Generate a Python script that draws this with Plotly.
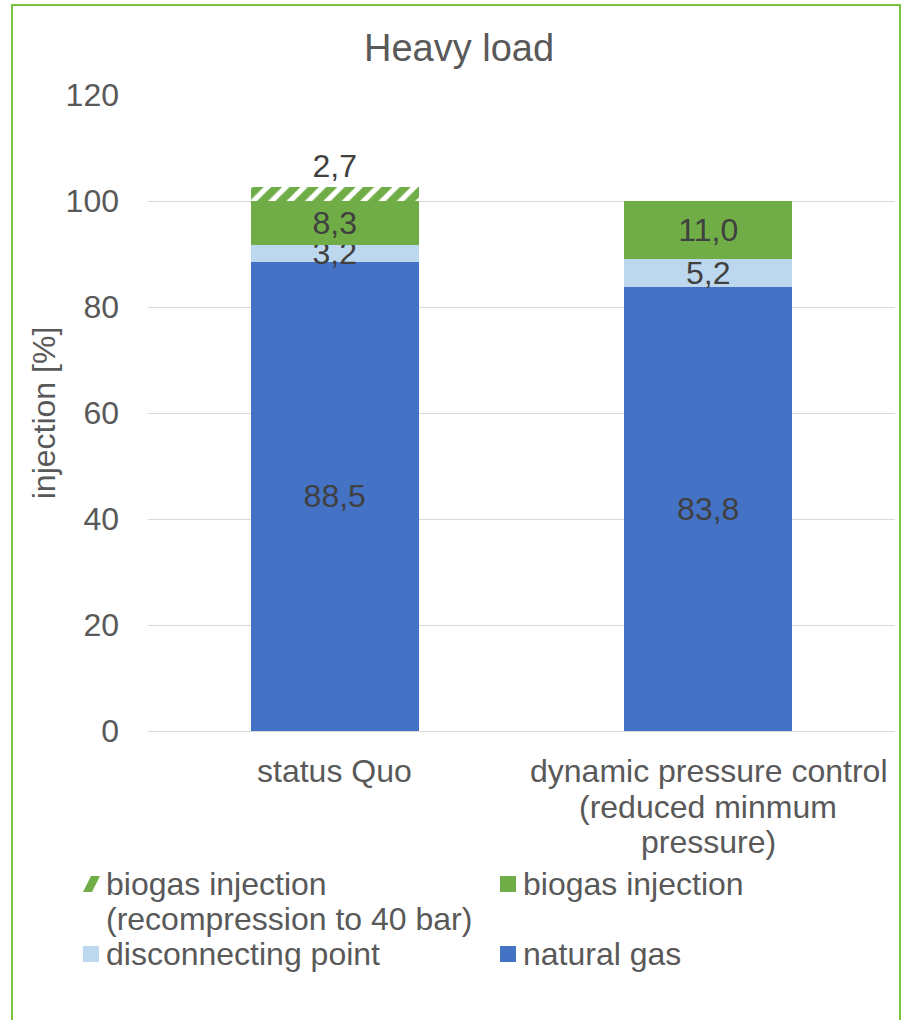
import plotly.graph_objects as go

# Scenario categories (x axis) and their wrapped label lines
categories = ["status Quo", "dynamic pressure control (reduced minmum pressure)"]
category_lines = [["status Quo"],
                  ["dynamic pressure control", "(reduced minmum", "pressure)"]]

# Injection shares in percent, stacked bottom to top
natural_gas = [88.5, 83.8]
disconnecting_point = [3.2, 5.2]
biogas = [8.3, 11.0]
biogas_recompression = [2.7, None]

series_names = {
    "natural": "natural gas",
    "disconnect": "disconnecting point",
    "biogas": "biogas injection",
    "recomp": "biogas injection\n(recompression to 40 bar)",
}

y_ticks = [0, 20, 40, 60, 80, 100, 120]

FONT = "Liberation Sans, Arial, sans-serif"
TXT = "#595959"
LBL = "#404040"
GREEN = "#70AD47"
BLUE = "#4472C4"
LIGHT = "#BDD7EE"
FRAME = "#7CC242"
FS = 32

# plot-area geometry (pixels) used to place the frame, labels and legend
W, H = 902, 1020
L, R, T, B = 148, 7, 95, 289
PW, PH = W - L - R, H - T - B


def px_x(px):
    return (px - L) / PW


def px_y(py):
    return (H - B - py) / PH


fig = go.Figure()

common = dict(
    x=categories,
    texttemplate="%{y:.1f}",
    textposition="inside",
    insidetextanchor="middle",
    constraintext="none",
    textfont=dict(family=FONT, size=FS, color=LBL),
    hoverinfo="skip",
    showlegend=False,
)

fig.add_bar(y=natural_gas, name=series_names["natural"],
            marker=dict(color=BLUE, line_width=0), **common)
fig.add_bar(y=disconnecting_point, name=series_names["disconnect"],
            marker=dict(color=LIGHT, line_width=0), **common)
fig.add_bar(y=biogas, name=series_names["biogas"],
            marker=dict(color=GREEN, line_width=0), **common)
fig.add_bar(
    x=categories, y=biogas_recompression, name=series_names["recomp"],
    marker=dict(color="white", line_width=0,
                pattern=dict(shape="/", fgcolor=GREEN, bgcolor="white",
                             fgopacity=1, size=13, solidity=0.6)),
    texttemplate="%{y:.1f}", textposition="outside", constraintext="none",
    textfont=dict(family=FONT, size=FS, color=LBL), cliponaxis=False,
    hoverinfo="skip", showlegend=False,
)

annotations = []
shapes = []

# category labels below the axis, one line at a time
LINE = 35.5
for cat, lines in zip(categories, category_lines):
    for i, line in enumerate(lines):
        annotations.append(dict(
            x=cat, xref="x", y=px_y(771 + i * LINE), yref="paper",
            text=line, showarrow=False, xanchor="center", yanchor="middle",
            font=dict(family=FONT, size=FS, color=TXT)))

# legend: two columns, symbol + text lines
legend_items = [
    ("recomp", 83, 884, None),
    ("biogas", 500, 884, GREEN),
    ("disconnect", 83, 954, LIGHT),
    ("natural", 500, 954, BLUE),
]
for key, sx, sy, color in legend_items:
    for i, line in enumerate(series_names[key].split("\n")):
        annotations.append(dict(
            x=px_x(sx + 21), xref="paper", y=px_y(sy + i * 34.5), yref="paper",
            text=line, showarrow=False, xanchor="left", yanchor="middle",
            font=dict(family=FONT, size=FS, color=TXT)))
    if color is None:
        # hatched swatch: a single wide diagonal stripe
        x0, x1 = px_x(sx), px_x(sx + 17)
        y0, y1 = px_y(sy + 8), px_y(sy - 8)
        xa = px_x(sx + 9)
        xb = px_x(sx + 8)
        shapes.append(dict(
            type="path", xref="paper", yref="paper",
            path=f"M {x0},{y0} L {xa},{y0} L {x1},{y1} L {xb},{y1} Z",
            fillcolor=GREEN, line=dict(width=0)))
    else:
        shapes.append(dict(
            type="rect", xref="paper", yref="paper",
            x0=px_x(sx), x1=px_x(sx + 16), y0=px_y(sy + 8), y1=px_y(sy - 8),
            fillcolor=color, line=dict(width=0)))

# chart frame
fl, fr, ft, fb = px_x(12), px_x(900), px_y(5), px_y(1040)
shapes.append(dict(type="path", xref="paper", yref="paper",
                   path=f"M {fl},{fb} L {fl},{ft} L {fr},{ft} L {fr},{fb}",
                   line=dict(color=FRAME, width=2)))

fig.update_layout(
    width=W, height=H,
    margin=dict(l=L, r=R, t=T, b=B),
    paper_bgcolor="white", plot_bgcolor="white",
    barmode="stack", bargap=0.55,
    separators=",.",
    font=dict(family=FONT, size=FS, color=TXT),
    title=dict(text="Heavy load", font=dict(family=FONT, size=38, color=TXT),
               xref="container", x=459 / W, xanchor="center",
               yref="container", y=1 - 48 / H, yanchor="middle"),
    showlegend=False,
    annotations=annotations,
    shapes=shapes,
)

fig.update_yaxes(range=[0, 120], tickvals=y_ticks, showgrid=True, gridcolor="#D9D9D9",
                 gridwidth=1, zeroline=True, zerolinecolor="#D9D9D9", zerolinewidth=1,
                 showline=False, ticks="", ticklabelstandoff=28,
                 tickfont=dict(family=FONT, size=FS, color=TXT),
                 title=dict(text="injection [%]", standoff=0,
                            font=dict(family=FONT, size=FS, color=TXT)))
fig.update_xaxes(showline=False, ticks="", showticklabels=False)

fig.write_html("out.html")
